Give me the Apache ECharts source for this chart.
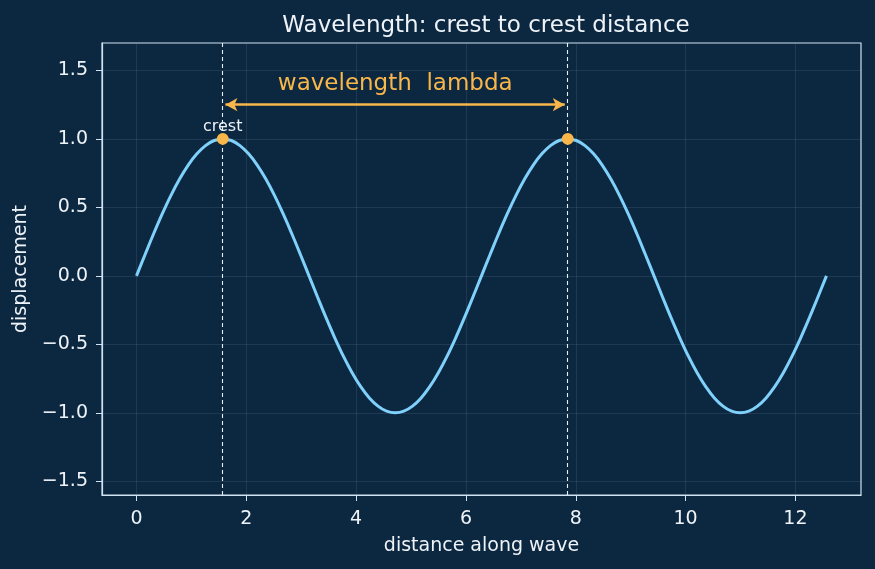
<!DOCTYPE html>
<html>
<head>
<meta charset="utf-8">
<script src="https://cdn.jsdelivr.net/npm/echarts@6/dist/echarts.min.js"></script>
<style>
  html, body { margin: 0; padding: 0; background: #0c2740; }
  #main { width: 875px; height: 569px; }
</style>
</head>
<body>
<div id="main"></div>
<script>
// wave samples (distance, displacement)
var distance = [0, 0.157, 0.314, 0.471, 0.628, 0.785, 0.942, 1.100, 1.257, 1.414,
  1.571, 1.728, 1.885, 2.042, 2.199, 2.356, 2.513, 2.670, 2.827, 2.985,
  3.142, 3.299, 3.456, 3.613, 3.770, 3.927, 4.084, 4.241, 4.398, 4.555,
  4.712, 4.869, 5.027, 5.184, 5.341, 5.498, 5.655, 5.812, 5.969, 6.126,
  6.283, 6.440, 6.597, 6.754, 6.912, 7.069, 7.226, 7.383, 7.540, 7.697,
  7.854, 8.011, 8.168, 8.325, 8.482, 8.639, 8.796, 8.954, 9.111, 9.268,
  9.425, 9.582, 9.739, 9.896, 10.053, 10.210, 10.367, 10.524, 10.681, 10.838,
  10.996, 11.153, 11.310, 11.467, 11.624, 11.781, 11.938, 12.095, 12.252, 12.409, 12.566];
var displacement = [0, 0.156, 0.309, 0.454, 0.588, 0.707, 0.809, 0.891, 0.951, 0.988,
  1, 0.988, 0.951, 0.891, 0.809, 0.707, 0.588, 0.454, 0.309, 0.156,
  0, -0.156, -0.309, -0.454, -0.588, -0.707, -0.809, -0.891, -0.951, -0.988,
  -1, -0.988, -0.951, -0.891, -0.809, -0.707, -0.588, -0.454, -0.309, -0.156,
  0, 0.156, 0.309, 0.454, 0.588, 0.707, 0.809, 0.891, 0.951, 0.988,
  1, 0.988, 0.951, 0.891, 0.809, 0.707, 0.588, 0.454, 0.309, 0.156,
  0, -0.156, -0.309, -0.454, -0.588, -0.707, -0.809, -0.891, -0.951, -0.988,
  -1, -0.988, -0.951, -0.891, -0.809, -0.707, -0.588, -0.454, -0.309, -0.156, 0];
var crests = [[1.571, 1], [7.854, 1]];
var arrowSpan = [[1.62, 1.25], [7.80, 1.25]];
var lambdaLabel = [4.712, 1.40];
var xTicks = [0, 2, 4, 6, 8, 10, 12];
var yTicks = [-1.5, -1.0, -0.5, 0.0, 0.5, 1.0, 1.5];

var axisCol = '#cfe3f3';
var textCol = '#eef3f8';
var orange = '#f9b64a';

var wave = distance.map(function (d, i) { return [d, displacement[i]]; });

var myChart = echarts.init(document.getElementById('main'));
var option = {
  backgroundColor: '#0c2740',
  textStyle: { fontFamily: 'DejaVu Sans' },
  title: {
    text: 'Wavelength: crest to crest distance',
    left: 481, top: 10, textAlign: 'center',
    textStyle: { color: textCol, fontSize: 23, fontWeight: 'normal', fontFamily: 'DejaVu Sans' }
  },
  grid: {
    left: 102, right: 14, top: 43, bottom: 74,
    show: true, borderColor: axisCol, borderWidth: 1.2, backgroundColor: 'transparent'
  },
  xAxis: {
    type: 'value', min: -0.628, max: 13.195,
    name: 'distance along wave', nameLocation: 'middle', nameGap: 42,
    nameTextStyle: { color: textCol, fontSize: 19 },
    axisLine: { show: true, onZero: false, lineStyle: { color: axisCol, width: 1.2 } },
    axisTick: { show: true, length: 6, customValues: xTicks, lineStyle: { color: axisCol } },
    axisLabel: { color: textCol, fontSize: 19, margin: 15, customValues: xTicks },
    splitLine: { show: true, lineStyle: { color: 'rgba(200,220,240,0.13)', width: 0.8 } }
  },
  yAxis: {
    type: 'value', min: -1.6, max: 1.7,
    name: 'displacement', nameLocation: 'middle', nameGap: 69, nameRotate: 90,
    nameTextStyle: { color: textCol, fontSize: 19 },
    axisLine: { show: true, onZero: false, lineStyle: { color: axisCol, width: 1.2 } },
    axisTick: { show: true, length: 6, customValues: yTicks, lineStyle: { color: axisCol } },
    axisLabel: {
      color: textCol, fontSize: 19, margin: 14, customValues: yTicks,
      formatter: function (v) { return (v < 0 ? '\u2212' : '') + Math.abs(v).toFixed(1); }
    },
    splitLine: { show: true, lineStyle: { color: 'rgba(200,220,240,0.13)', width: 0.8 } }
  },
  series: [
    {
      name: 'wave', type: 'line', data: wave, smooth: 0.4, showSymbol: false,
      lineStyle: { color: '#7fd0fb', width: 3 },
      z: 3,
      markLine: {
        silent: true, symbol: 'none', animation: false,
        label: { show: false },
        lineStyle: { color: '#e6f0f8', type: [4, 3], width: 1.1 },
        data: crests.map(function (c) { return { xAxis: c[0] }; })
      }
    },
    {
      name: 'crests', type: 'scatter', data: crests, symbolSize: 12, z: 5,
      itemStyle: { color: orange, opacity: 1 },
      label: {
        show: true, position: 'top', distance: -2, color: textCol, fontSize: 16,
        formatter: function (p) { return p.dataIndex === 0 ? 'crest' : ''; }
      }
    },
    {
      name: 'lambda', type: 'line', data: [], z: 4,
      markLine: {
        silent: true, animation: false, symbol: ['arrow', 'arrow'], symbolSize: [10, 12],
        label: { show: false },
        lineStyle: { color: orange, type: 'solid', width: 2.6 },
        data: [[{ coord: arrowSpan[0] }, { coord: arrowSpan[1] }]]
      }
    },
    {
      name: 'lambdaText', type: 'scatter', data: [lambdaLabel], symbolSize: 0, z: 4,
      itemStyle: { opacity: 1 },
      label: {
        show: true, position: 'inside', color: orange, fontSize: 23,
        formatter: 'wavelength  lambda'
      }
    }
  ]
};
myChart.setOption(option);
</script>
</body>
</html>
